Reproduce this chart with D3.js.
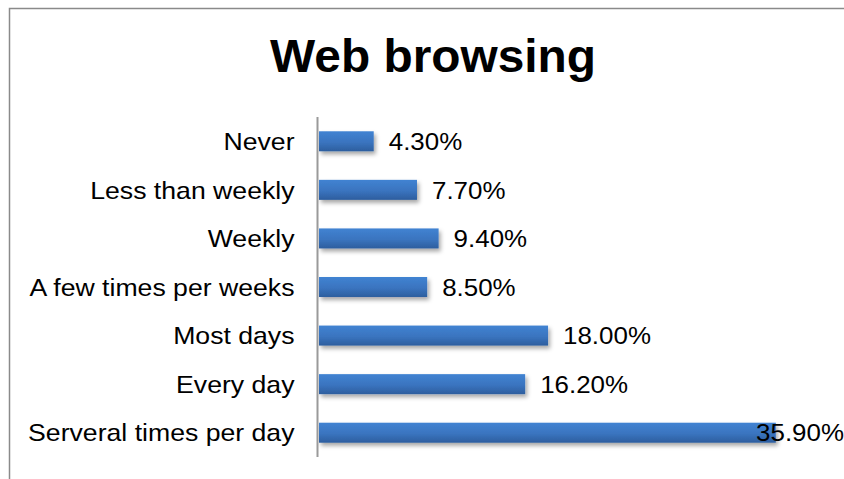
<!DOCTYPE html>
<html>
<head>
<meta charset="utf-8">
<script src="https://cdn.jsdelivr.net/npm/d3@7/dist/d3.min.js"></script>
<style>
  html, body { margin: 0; padding: 0; background: #fff; }
  svg { display: block; }
  text { font-family: "Liberation Sans", Arial, Helvetica, sans-serif; fill: #000; }
</style>
</head>
<body>
<svg id="chart" width="844" height="479"></svg>
<script>
// Survey answers: how often respondents browse the web
const categories = [
  "Never",
  "Less than weekly",
  "Weekly",
  "A few times per weeks",
  "Most days",
  "Every day",
  "Serveral times per day"
];
const values = [4.3, 7.7, 9.4, 8.5, 18.0, 16.2, 35.9];
const chartTitle = "Web browsing";

const W = 844, H = 479;
// slightly wide lettering
const catStretch = 1.11, valStretch = 1.08, titleStretch = 1.04;

const svg = d3.select("#chart");
svg.append("rect").attr("width", W).attr("height", H).attr("fill", "#fff");

const defs = svg.append("defs");
const grad = defs.append("linearGradient")
  .attr("id", "barFill").attr("x1", 0).attr("y1", 0).attr("x2", 0).attr("y2", 1);
grad.append("stop").attr("offset", "0%").attr("stop-color", "#4183d2");
grad.append("stop").attr("offset", "55%").attr("stop-color", "#3a74bf");
grad.append("stop").attr("offset", "100%").attr("stop-color", "#2d5e9e");

const shadow = defs.append("filter").attr("id", "barShadow")
  .attr("x", "-10%").attr("y", "-30%").attr("width", "130%").attr("height", "190%");
shadow.append("feDropShadow")
  .attr("dx", 2).attr("dy", 3).attr("stdDeviation", 2)
  .attr("flood-color", "#000").attr("flood-opacity", 0.35);

// chart area frame
svg.append("rect")
  .attr("x", 9.5).attr("y", 8.5)
  .attr("width", 900).attr("height", 520)
  .attr("fill", "none").attr("stroke", "#8a8a8a").attr("stroke-width", 1.5);

// title
svg.append("text")
  .attr("transform", `translate(433,72) scale(${titleStretch},1)`)
  .attr("text-anchor", "middle")
  .style("font-size", "46px").style("font-weight", "bold")
  .text(chartTitle);

const y = d3.scaleBand()
  .domain(categories)
  .range([117, 457])
  .paddingInner(0.588)
  .paddingOuter(0.294);

const x = d3.scaleLinear().domain([0, 40]).range([319, 828]);

// bars
svg.append("g").selectAll("rect")
  .data(categories)
  .join("rect")
  .attr("x", x(0))
  .attr("y", d => y(d))
  .attr("width", (d, i) => x(values[i]) - x(0))
  .attr("height", y.bandwidth())
  .attr("fill", "url(#barFill)")
  .attr("filter", "url(#barShadow)");

// category axis
const tickPad = 23;
const yAxis = svg.append("g")
  .attr("transform", `translate(${317.5},0)`)
  .call(d3.axisLeft(y).tickSize(0).tickPadding(tickPad));
yAxis.select(".domain").attr("stroke", "#9a9a9a").attr("stroke-width", 2)
  .attr("d", `M0,117V457`);
yAxis.selectAll(".tick text")
  .attr("font-family", null)
  .style("font-size", "24px")
  .attr("dy", "0.36em")
  .attr("x", 0)
  .attr("transform", `translate(${-tickPad},0) scale(${catStretch},1)`);

// value labels
const fmt = d3.format(".2f");
svg.append("g").selectAll("text")
  .data(categories)
  .join("text")
  .attr("dy", "0.36em")
  .style("font-size", "24px")
  .text((d, i) => fmt(values[i]) + "%")
  .attr("transform", function (d, i) {
    const w = this.getComputedTextLength() * valStretch;
    const lx = Math.min(x(values[i]) + 15, 844 - w);
    const ly = y(d) + y.bandwidth() / 2;
    return `translate(${lx},${ly}) scale(${valStretch},1)`;
  });
</script>
</body>
</html>
